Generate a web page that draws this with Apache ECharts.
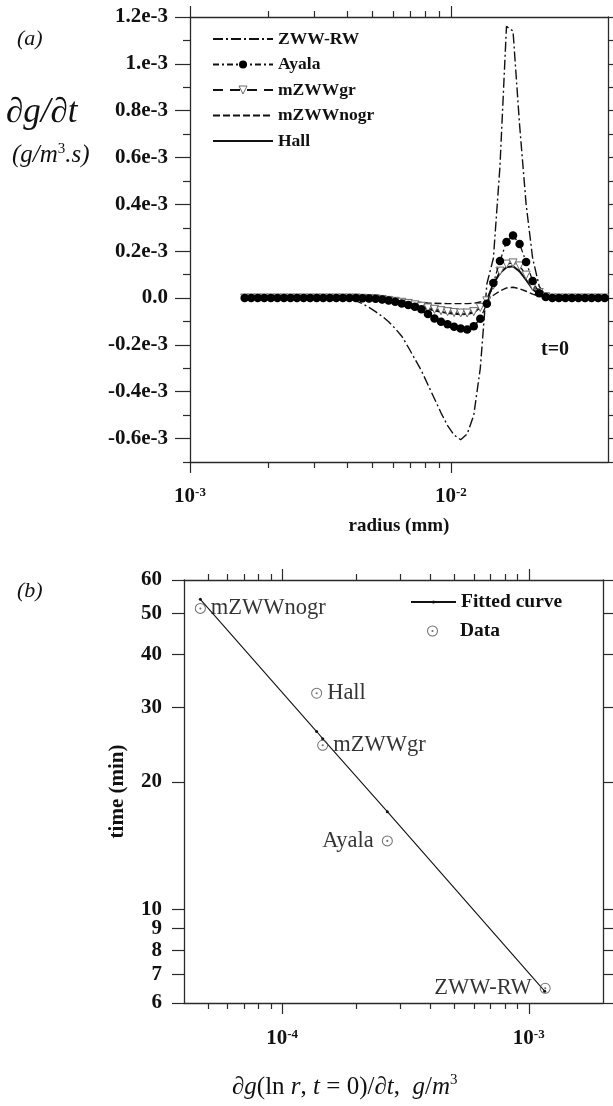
<!DOCTYPE html>
<html>
<head>
<meta charset="utf-8">
<script src="https://cdn.jsdelivr.net/npm/echarts@6/dist/echarts.min.js"></script>
<style>
  html, body { margin: 0; padding: 0; background: #fff; }
  #chart { width: 613px; height: 1106px; }
</style>
</head>
<body>
<div id="chart"></div>
<script>
// ---------- panel (a): production rate vs radius at t = 0 ----------
// radius bins (mm), twelve bins per doubling of drop mass
const radius = [
  0.001620, 0.001716, 0.001818, 0.001926, 0.002041, 0.002162, 0.002291, 0.002427, 0.002571, 0.002724,
  0.002886, 0.003058, 0.003240, 0.003433, 0.003637, 0.003853, 0.004082, 0.004325, 0.004582, 0.004854,
  0.005143, 0.005449, 0.005773, 0.006116, 0.006480, 0.006865, 0.007274, 0.007706, 0.008165, 0.008650,
  0.009165, 0.009710, 0.010287, 0.010899, 0.011547, 0.012233, 0.012960, 0.013731, 0.014547, 0.015412,
  0.016330, 0.017300, 0.018330, 0.019420, 0.020570, 0.021800, 0.023090, 0.024470, 0.025920, 0.027460,
  0.029090, 0.030820, 0.032660, 0.034600, 0.036650, 0.038830
];

// dg/dt per bin, in units of 1e-3 g/m^3/s
const zwwRW = [
  0, 0, 0, 0, 0, 0, 0, 0, 0, 0,
  0, 0, 0, 0, -0.001, -0.002, -0.005, -0.012, -0.024, -0.040,
  -0.058, -0.078, -0.101, -0.130, -0.163, -0.210, -0.260, -0.310, -0.370, -0.430,
  -0.490, -0.545, -0.585, -0.605, -0.580, -0.500, -0.300, 0.060, 0.170, 0.560,
  1.160, 1.140, 0.740, 0.400, 0.170, 0.050, 0.010, 0, 0, 0,
  0, 0, 0, 0, 0, 0
];
const ayala = [
  0, 0, 0, 0, 0, 0, 0, 0, 0, 0,
  0, 0, 0, 0, 0, 0, 0, 0, -0.001, -0.002,
  -0.003, -0.006, -0.010, -0.016, -0.023, -0.030, -0.037, -0.048, -0.068, -0.087,
  -0.101, -0.112, -0.123, -0.130, -0.134, -0.120, -0.088, -0.024, 0.064, 0.158,
  0.239, 0.267, 0.231, 0.154, 0.073, 0.021, 0.004, 0, 0, 0,
  0, 0, 0, 0, 0, 0
];
const mzwwGr = [
  0, 0, 0, 0, 0, 0, 0, 0, 0, 0,
  0, 0, 0, 0, 0, 0, 0, 0, -0.001, -0.002,
  -0.003, -0.006, -0.010, -0.014, -0.018, -0.023, -0.029, -0.035, -0.042, -0.048,
  -0.054, -0.058, -0.062, -0.064, -0.064, -0.058, -0.040, -0.012, 0.055, 0.115,
  0.145, 0.150, 0.137, 0.098, 0.051, 0.024, 0.006, 0, 0, 0,
  0, 0, 0, 0, 0, 0
];
const mzwwNogr = [
  0, 0, 0, 0, 0, 0, 0, 0, 0, 0,
  0, 0, 0, 0, 0, 0, 0, -0.001, -0.002, -0.003,
  -0.005, -0.007, -0.009, -0.011, -0.013, -0.015, -0.017, -0.019, -0.021, -0.022,
  -0.023, -0.024, -0.024, -0.024, -0.024, -0.022, -0.017, -0.006, 0.012, 0.030,
  0.043, 0.046, 0.040, 0.029, 0.017, 0.008, 0.003, 0, 0, 0,
  0, 0, 0, 0, 0, 0
];
const hall = [
  0, 0, 0, 0, 0, 0, 0, 0, 0, 0,
  0, 0, 0, 0, 0, 0, 0, 0, -0.001, -0.002,
  -0.004, -0.007, -0.011, -0.015, -0.020, -0.026, -0.032, -0.039, -0.046, -0.053,
  -0.059, -0.064, -0.067, -0.069, -0.068, -0.062, -0.040, -0.008, 0.060, 0.107,
  0.132, 0.136, 0.114, 0.077, 0.038, 0.015, 0.004, 0, 0, 0,
  0, 0, 0, 0, 0, 0
];
const UNIT = 1e-3;

// axis ticks of panel (a)
const rMajor = [1e-3, 1e-2];
const rMinor = [2e-3, 3e-3, 4e-3, 5e-3, 6e-3, 7e-3, 8e-3, 9e-3];
const gMajor = [-0.6, -0.4, -0.2, 0.0, 0.2, 0.4, 0.6, 0.8, 1.0, 1.2];
const gMajorText = ['-0.6e-3', '-0.4e-3', '-0.2e-3', '0.0', '0.2e-3', '0.4e-3', '0.6e-3', '0.8e-3', '1.e-3', '1.2e-3'];
const gMinor = [-0.7, -0.5, -0.3, -0.1, 0.1, 0.3, 0.5, 0.7, 0.9, 1.1];
const gMin = -0.7, gMax = 1.2;

// ---------- panel (b): onset time vs peak production ----------
const modelNames = ['mZWWnogr', 'Hall', 'mZWWgr', 'Ayala', 'ZWW-RW'];
const peakRate = [4.66e-5, 1.38e-4, 1.46e-4, 2.67e-4, 1.166e-3];
const onsetTime = [51.4, 32.4, 24.4, 14.5, 6.5];
const labelSide = ['right', 'right', 'right', 'left', 'left'];
const fitRate = [4.66e-5, 1.38e-4, 1.46e-4, 2.67e-4, 1.16e-3];
const fitTime = [54.0, 26.3, 25.3, 17.0, 6.4];
const pMajor = [1e-4, 1e-3];
const pMinor = [5e-5, 6e-5, 7e-5, 8e-5, 9e-5, 2e-4, 3e-4, 4e-4, 5e-4, 6e-4, 7e-4, 8e-4, 9e-4];
const tTicks = [6, 7, 8, 9, 10, 20, 30, 40, 50, 60];

// ---------- styles ----------
const SERIF = '"Liberation Serif", "Times New Roman", serif';
const INK = '#111';
const AXIS = '#2a2a2a';
const axisLineStyle = { color: AXIS, width: 1.3 };
const tickStyle = { color: AXIS, width: 1.2 };

const pow10Rich = {
  b: { fontFamily: SERIF, fontWeight: 'bold', fontSize: 21, color: INK, lineHeight: 22 },
  s: { fontFamily: SERIF, fontWeight: 'bold', fontSize: 13, color: INK, lineHeight: 13, verticalAlign: 'top' }
};
const pow10 = v => '{b|10}{s|' + Math.round(Math.log10(v)) + '}';

const pairs = (xs, ys, k) => xs.map((x, i) => [x, ys[i] * (k || 1)]);

const gridA = { left: 190, top: 17, width: 418, height: 445, containLabel: false };
const gridB = { left: 184, top: 580, width: 419, height: 423, containLabel: false };

function logX(grid, min, max, pos, opts) {
  return Object.assign({
    gridIndex: grid, type: 'log', logBase: 10, min: min, max: max, position: pos,
    axisLine: { show: true, onZero: false, lineStyle: axisLineStyle },
    axisLabel: { show: false },
    splitLine: { show: false },
    minorTick: { show: false },
    minorSplitLine: { show: false }
  }, opts);
}

const xAxes = [
  // (a) bottom, decades with labels
  logX(0, 1e-3, 0.04, 'bottom', {
    axisTick: { show: true, customValues: rMajor, length: 11, lineStyle: tickStyle },
    axisLabel: { show: true, customValues: rMajor, formatter: pow10, rich: pow10Rich, margin: 24 },
    name: 'radius (mm)', nameLocation: 'middle', nameGap: 55,
    nameTextStyle: { fontFamily: SERIF, fontWeight: 'bold', fontSize: 19, color: INK }
  }),
  // (a) top, decades
  logX(0, 1e-3, 0.04, 'top', {
    axisTick: { show: true, customValues: rMajor, length: 11, lineStyle: tickStyle }
  }),
  // (a) minor ticks, bottom and top
  logX(1, 1e-3, 0.04, 'bottom', {
    axisLine: { show: false, onZero: false },
    axisTick: { show: true, customValues: rMinor, length: 6, lineStyle: tickStyle }
  }),
  logX(1, 1e-3, 0.04, 'top', {
    axisLine: { show: false, onZero: false },
    axisTick: { show: true, customValues: rMinor, length: 6, lineStyle: tickStyle }
  }),
  // (b) bottom, decades with labels
  logX(2, 4e-5, 2e-3, 'bottom', {
    axisTick: { show: true, customValues: pMajor, length: 11, lineStyle: tickStyle },
    axisLabel: { show: true, customValues: pMajor, formatter: pow10, rich: pow10Rich, margin: 25 }
  }),
  // (b) top, decades
  logX(2, 4e-5, 2e-3, 'top', {
    axisTick: { show: true, customValues: pMajor, length: 11, lineStyle: tickStyle }
  }),
  // (b) minor ticks
  logX(3, 4e-5, 2e-3, 'bottom', {
    axisLine: { show: false, onZero: false },
    axisTick: { show: true, customValues: pMinor, length: 6, lineStyle: tickStyle }
  }),
  logX(3, 4e-5, 2e-3, 'top', {
    axisLine: { show: false, onZero: false },
    axisTick: { show: true, customValues: pMinor, length: 6, lineStyle: tickStyle }
  })
];

const gMajorVals = gMajor.map(v => v * UNIT);
const gMinorVals = gMinor.map(v => v * UNIT);
const gAllVals = gMajorVals.concat(gMinorVals);

function gLabel(v) {
  let best = 0;
  for (let i = 1; i < gMajorVals.length; i++) {
    if (Math.abs(gMajorVals[i] - v) < Math.abs(gMajorVals[best] - v)) best = i;
  }
  return gMajorText[best];
}

const yAxes = [
  // (a) left, major ticks with labels
  {
    gridIndex: 0, type: 'value', min: gMin * UNIT, max: gMax * UNIT, position: 'left',
    axisLine: { show: true, onZero: false, lineStyle: axisLineStyle },
    axisTick: { show: true, customValues: gMajorVals, length: 15, lineStyle: tickStyle },
    axisLabel: {
      show: true, customValues: gMajorVals, formatter: gLabel, margin: 22,
      fontFamily: SERIF, fontWeight: 'bold', fontSize: 21, color: INK
    },
    splitLine: { show: false }
  },
  // (a) right, every 0.1e-3
  {
    gridIndex: 0, type: 'value', min: gMin * UNIT, max: gMax * UNIT, position: 'right',
    axisLine: { show: true, onZero: false, lineStyle: axisLineStyle },
    axisTick: { show: true, customValues: gAllVals, length: 8, lineStyle: tickStyle },
    axisLabel: { show: false },
    splitLine: { show: false }
  },
  // (a) left minor ticks
  {
    gridIndex: 1, type: 'value', min: gMin * UNIT, max: gMax * UNIT, position: 'left',
    axisLine: { show: false, onZero: false },
    axisTick: { show: true, customValues: gMinorVals, length: 7, lineStyle: tickStyle },
    axisLabel: { show: false },
    splitLine: { show: false }
  },
  // (b) left, time
  {
    gridIndex: 2, type: 'log', logBase: 10, min: 6, max: 60, position: 'left',
    axisLine: { show: true, onZero: false, lineStyle: axisLineStyle },
    axisTick: { show: true, customValues: tTicks, length: 12, lineStyle: tickStyle },
    axisLabel: {
      show: true, customValues: tTicks, formatter: v => String(Math.round(v)), margin: 22,
      fontFamily: SERIF, fontWeight: 'bold', fontSize: 21, color: INK
    },
    splitLine: { show: false }, minorTick: { show: false },
    name: 'time (min)', nameLocation: 'middle', nameGap: 56, nameRotate: 90,
    nameTextStyle: { fontFamily: SERIF, fontWeight: 'bold', fontSize: 21, color: INK }
  },
  // (b) right
  {
    gridIndex: 2, type: 'log', logBase: 10, min: 6, max: 60, position: 'right',
    axisLine: { show: true, onZero: false, lineStyle: axisLineStyle },
    axisTick: { show: true, customValues: tTicks, length: 12, lineStyle: tickStyle },
    axisLabel: { show: false },
    splitLine: { show: false }, minorTick: { show: false }
  },
  // (b) overlay grid, no visible parts
  {
    gridIndex: 3, type: 'log', logBase: 10, min: 6, max: 60, position: 'left',
    axisLine: { show: false }, axisTick: { show: false }, axisLabel: { show: false },
    splitLine: { show: false }
  }
];

const hiddenSymbol = { color: 'rgba(0,0,0,0)', borderWidth: 0, opacity: 0 };

const ringDot = 'path://M10 0A10 10 0 1 1 10 20A10 10 0 1 1 10 0Z' +
  'M10 1.8A8.2 8.2 0 1 0 10 18.2A8.2 8.2 0 1 0 10 1.8Z' +
  'M10 8.1A1.9 1.9 0 1 1 10 11.9A1.9 1.9 0 1 1 10 8.1Z';

const pointLabel = { fontFamily: SERIF, fontSize: 22.5, color: '#000' };

const series = [
  {
    name: 'ZWW-RW', type: 'line', xAxisIndex: 0, yAxisIndex: 0, z: 2,
    data: pairs(radius, zwwRW, UNIT), symbol: 'none',
    lineStyle: { color: INK, width: 1.4, type: [10, 3, 2, 3] }
  },
  {
    name: 'Ayala', type: 'line', xAxisIndex: 0, yAxisIndex: 0, z: 6,
    data: pairs(radius, ayala, UNIT), symbol: 'circle', symbolSize: 8.5, showSymbol: true,
    itemStyle: { color: '#000' },
    lineStyle: { color: INK, width: 1.3, type: [6, 3, 2, 3] }
  },
  {
    name: 'mZWWgr', type: 'line', xAxisIndex: 0, yAxisIndex: 0, z: 5,
    data: pairs(radius, mzwwGr, UNIT), symbol: 'triangle', symbolRotate: 180, symbolSize: 8,
    showSymbol: true,
    itemStyle: { color: '#fff', borderColor: '#6a6a6a', borderWidth: 1 },
    lineStyle: { color: INK, width: 1.4, type: [10, 7] }
  },
  {
    name: 'mZWWnogr', type: 'line', xAxisIndex: 0, yAxisIndex: 0, z: 3,
    data: pairs(radius, mzwwNogr, UNIT), symbol: 'none',
    lineStyle: { color: INK, width: 1.4, type: [7, 3] }
  },
  {
    name: 'Hall', type: 'line', xAxisIndex: 0, yAxisIndex: 0, z: 4,
    data: pairs(radius, hall, UNIT), symbol: 'none',
    lineStyle: { color: INK, width: 2 }
  },
  {
    name: 'Fitted curve', type: 'line', xAxisIndex: 4, yAxisIndex: 3, z: 3,
    data: pairs(fitRate, fitTime), symbol: 'circle', symbolSize: 3, showSymbol: true,
    itemStyle: { color: INK },
    lineStyle: { color: INK, width: 1.1 }
  },
  {
    name: 'Data', type: 'scatter', xAxisIndex: 4, yAxisIndex: 3, z: 4,
    symbol: ringDot, symbolSize: 11, symbolKeepAspect: true,
    itemStyle: { color: '#4a4a4a' },
    label: Object.assign({ show: true, formatter: '{b}', distance: 4 }, pointLabel),
    data: peakRate.map((x, i) => ({
      name: modelNames[i],
      value: [x, onsetTime[i]],
      label: Object.assign({
        position: labelSide[i],
        distance: labelSide[i] === 'left' ? 8 : 5
      }, pointLabel)
    }))
  }
];

const legendText = { fontFamily: SERIF, fontWeight: 'bold', color: INK };

const option = {
  animation: false,
  backgroundColor: '#fff',
  grid: [gridA, gridA, gridB, gridB],
  xAxis: xAxes,
  yAxis: yAxes,
  legend: [
    {
      left: 212, top: 30, orient: 'vertical', padding: 0,
      itemWidth: 60, itemHeight: 10, itemGap: 7.5,
      textStyle: Object.assign({ fontSize: 17.5, lineHeight: 18 }, legendText),
      selectedMode: false,
      data: [
        { name: 'ZWW-RW', itemStyle: hiddenSymbol },
        { name: 'Ayala', itemStyle: { color: '#000', borderWidth: 0 } },
        { name: 'mZWWgr', itemStyle: { color: '#fff', borderColor: '#6a6a6a', borderWidth: 1 } },
        { name: 'mZWWnogr', itemStyle: hiddenSymbol },
        { name: 'Hall', itemStyle: hiddenSymbol }
      ]
    },
    {
      left: 410, top: 592, orient: 'vertical', padding: 0,
      itemWidth: 45, itemHeight: 4,
      textStyle: Object.assign({ fontSize: 19.5, lineHeight: 20 }, legendText),
      selectedMode: false,
      data: ['Fitted curve']
    },
    {
      left: 427, top: 621, orient: 'vertical', padding: 0,
      itemWidth: 45, itemHeight: 11,
      textStyle: Object.assign({ fontSize: 19.5, lineHeight: 20 }, legendText),
      selectedMode: false,
      data: ['Data']
    }
  ],
  graphic: [
    { type: 'text', left: 17, top: 28, style: { text: '(a)', font: 'italic 22px ' + SERIF, fill: INK } },
    { type: 'text', left: 6, top: 95, style: { text: '∂g/∂t', font: 'italic 35px ' + SERIF, fill: INK } },
    {
      type: 'text', left: 12, top: 142,
      style: {
        text: '{i|(g/m}{s|3}{i|.s)}', fill: INK,
        rich: {
          i: { fontFamily: SERIF, fontStyle: 'italic', fontSize: 25, lineHeight: 27, fill: INK },
          s: { fontFamily: SERIF, fontSize: 15, lineHeight: 15, verticalAlign: 'top', fill: INK }
        }
      }
    },
    { type: 'text', left: 541, top: 340, style: { text: 't=0', font: 'bold 20px ' + SERIF, fill: INK } },
    { type: 'text', left: 17, top: 580, style: { text: '(b)', font: 'italic 22px ' + SERIF, fill: INK } },
    {
      type: 'text', left: 232, top: 1073,
      style: {
        text: '{i|∂g}{n|(ln }{i|r}{n|, }{i|t}{n| = 0)/∂}{i|t}{n|,  }{i|g}{n|/}{i|m}{s|3}',
        fill: INK,
        rich: {
          i: { fontFamily: SERIF, fontStyle: 'italic', fontSize: 25, lineHeight: 28, fill: INK },
          n: { fontFamily: SERIF, fontSize: 25, lineHeight: 28, fill: INK },
          s: { fontFamily: SERIF, fontSize: 15, lineHeight: 15, verticalAlign: 'top', fill: INK }
        }
      }
    }
  ],
  series: series
};

const chart = echarts.init(document.getElementById('chart'), null, { renderer: 'canvas' });
chart.setOption(option);
</script>
</body>
</html>
